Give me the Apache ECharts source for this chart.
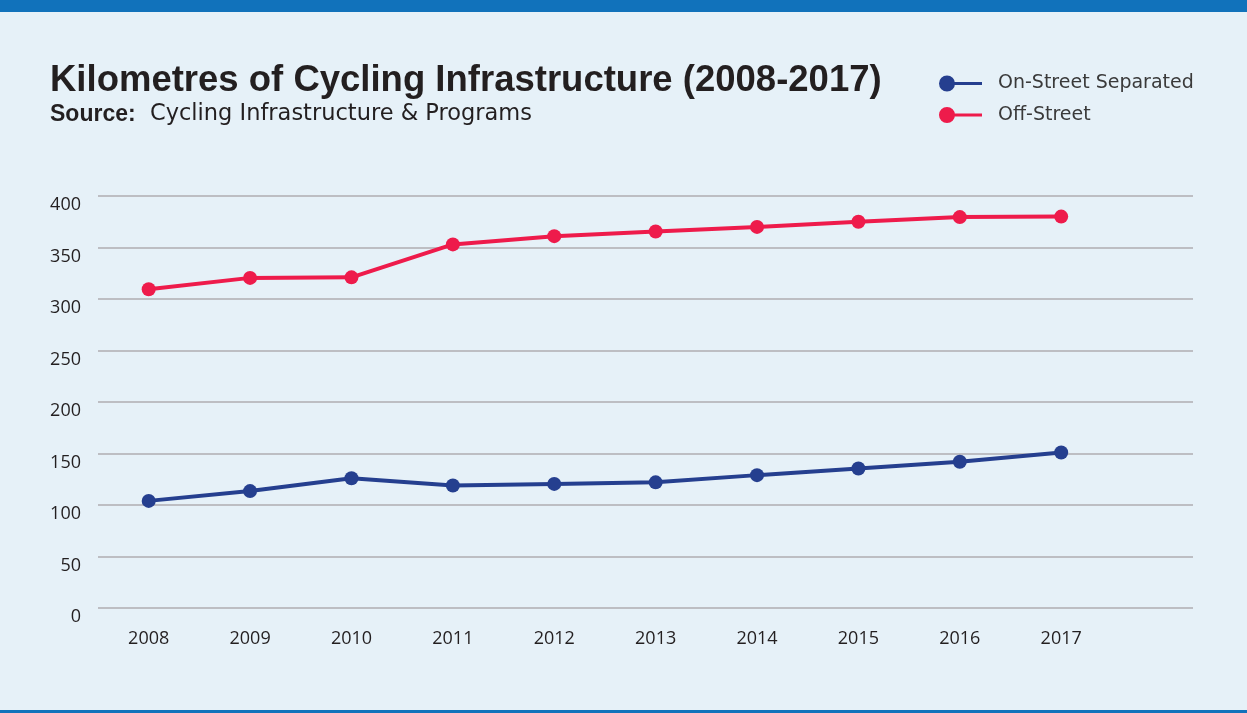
<!DOCTYPE html>
<html>
<head>
<meta charset="utf-8">
<script src="https://cdn.jsdelivr.net/npm/echarts@6/dist/echarts.min.js"></script>
<style>
html,body{margin:0;padding:0;background:#e6f1f8;}
#chart{width:1247px;height:713px;}
</style>
</head>
<body>
<div id="chart"></div>
<script>
const years = [2008, 2009, 2010, 2011, 2012, 2013, 2014, 2015, 2016, 2017];
const onStreet = [104, 113.5, 126, 119, 120.5, 122, 129, 135.5, 142, 151];
const offStreet = [309.5, 320.5, 321, 353, 361, 365.5, 370, 375, 379.5, 380];
const seriesNames = ['On-Street Separated', 'Off-Street'];
const titleText = 'Kilometres of Cycling Infrastructure (2008-2017)';
const sourceLabel = 'Source:';
const sourceText = 'Cycling Infrastructure & Programs';

const chart = echarts.init(document.getElementById('chart'), null, {renderer: 'canvas'});
const iconPath = 'path://M0 8 A8 8 0 1 1 16 8 A8 8 0 1 1 0 8 Z M14 6.5 L43 6.5 L43 9.5 L14 9.5 Z';
const pairs = arr => years.map((y, i) => [y, arr[i]]);

chart.setOption({
  backgroundColor: '#e6f1f8',
  animation: false,
  title: [
    {
      text: titleText,
      left: 50, top: 62, padding: 0,
      textStyle: {fontFamily: 'Liberation Sans', fontWeight: 'bold', fontSize: 36.5, color: '#231f20'}
    },
    {
      text: '{b|' + sourceLabel + '}  ' + sourceText,
      left: 50, top: 103, padding: 0,
      textStyle: {fontFamily: 'DejaVu Sans', fontWeight: 'normal', fontSize: 22.5, color: '#231f20',
        rich: {b: {fontFamily: 'Liberation Sans', fontWeight: 'bold', fontSize: 23, color: '#231f20'}}}
    }
  ],
  legend: {
    orient: 'vertical',
    left: 939, top: 74, padding: 0,
    itemWidth: 43, itemHeight: 16, itemGap: 12.5,
    icon: iconPath,
    itemStyle: {borderWidth: 0},
    textStyle: {fontFamily: 'DejaVu Sans', fontSize: 19, color: '#3a3a3a', padding: [0, 0, 0, 11]},
    data: seriesNames
  },
  grid: {left: 98, right: 54, top: 196, bottom: 105, containLabel: false},
  xAxis: {
    type: 'value', min: 2007.5, max: 2018.3, interval: 0.5,
    axisLine: {show: false}, axisTick: {show: false}, splitLine: {show: false},
    axisLabel: {
      margin: 22, fontFamily: 'Open Sans', fontSize: 18, color: '#231f20',
      showMinLabel: true, showMaxLabel: true,
      formatter: v => (Number.isInteger(v) && years.indexOf(v) >= 0) ? String(v) : ''
    }
  },
  yAxis: {
    type: 'value', min: 0, max: 400, interval: 50,
    axisLine: {show: false}, axisTick: {show: false},
    splitLine: {lineStyle: {color: '#bdbec3', width: 2}},
    axisLabel: {margin: 17, fontFamily: 'Open Sans', fontSize: 18, color: '#231f20', verticalAlign: 'top'}
  },
  series: [
    {
      name: seriesNames[0], type: 'line', data: pairs(onStreet),
      symbol: 'circle', symbolSize: 14, color: '#253f8f',
      lineStyle: {width: 4, color: '#253f8f'}, itemStyle: {color: '#253f8f', borderWidth: 0}
    },
    {
      name: seriesNames[1], type: 'line', data: pairs(offStreet),
      symbol: 'circle', symbolSize: 14, color: '#ee1b4b',
      lineStyle: {width: 4, color: '#ee1b4b'}, itemStyle: {color: '#ee1b4b', borderWidth: 0}
    }
  ],
  graphic: [
    {type: 'rect', left: 0, top: 0, shape: {width: 1247, height: 12}, style: {fill: '#1172bb'}, silent: true},
    {type: 'rect', left: 0, top: 710, shape: {width: 1247, height: 3}, style: {fill: '#1172bb'}, silent: true}
  ]
});
</script>
</body>
</html>
